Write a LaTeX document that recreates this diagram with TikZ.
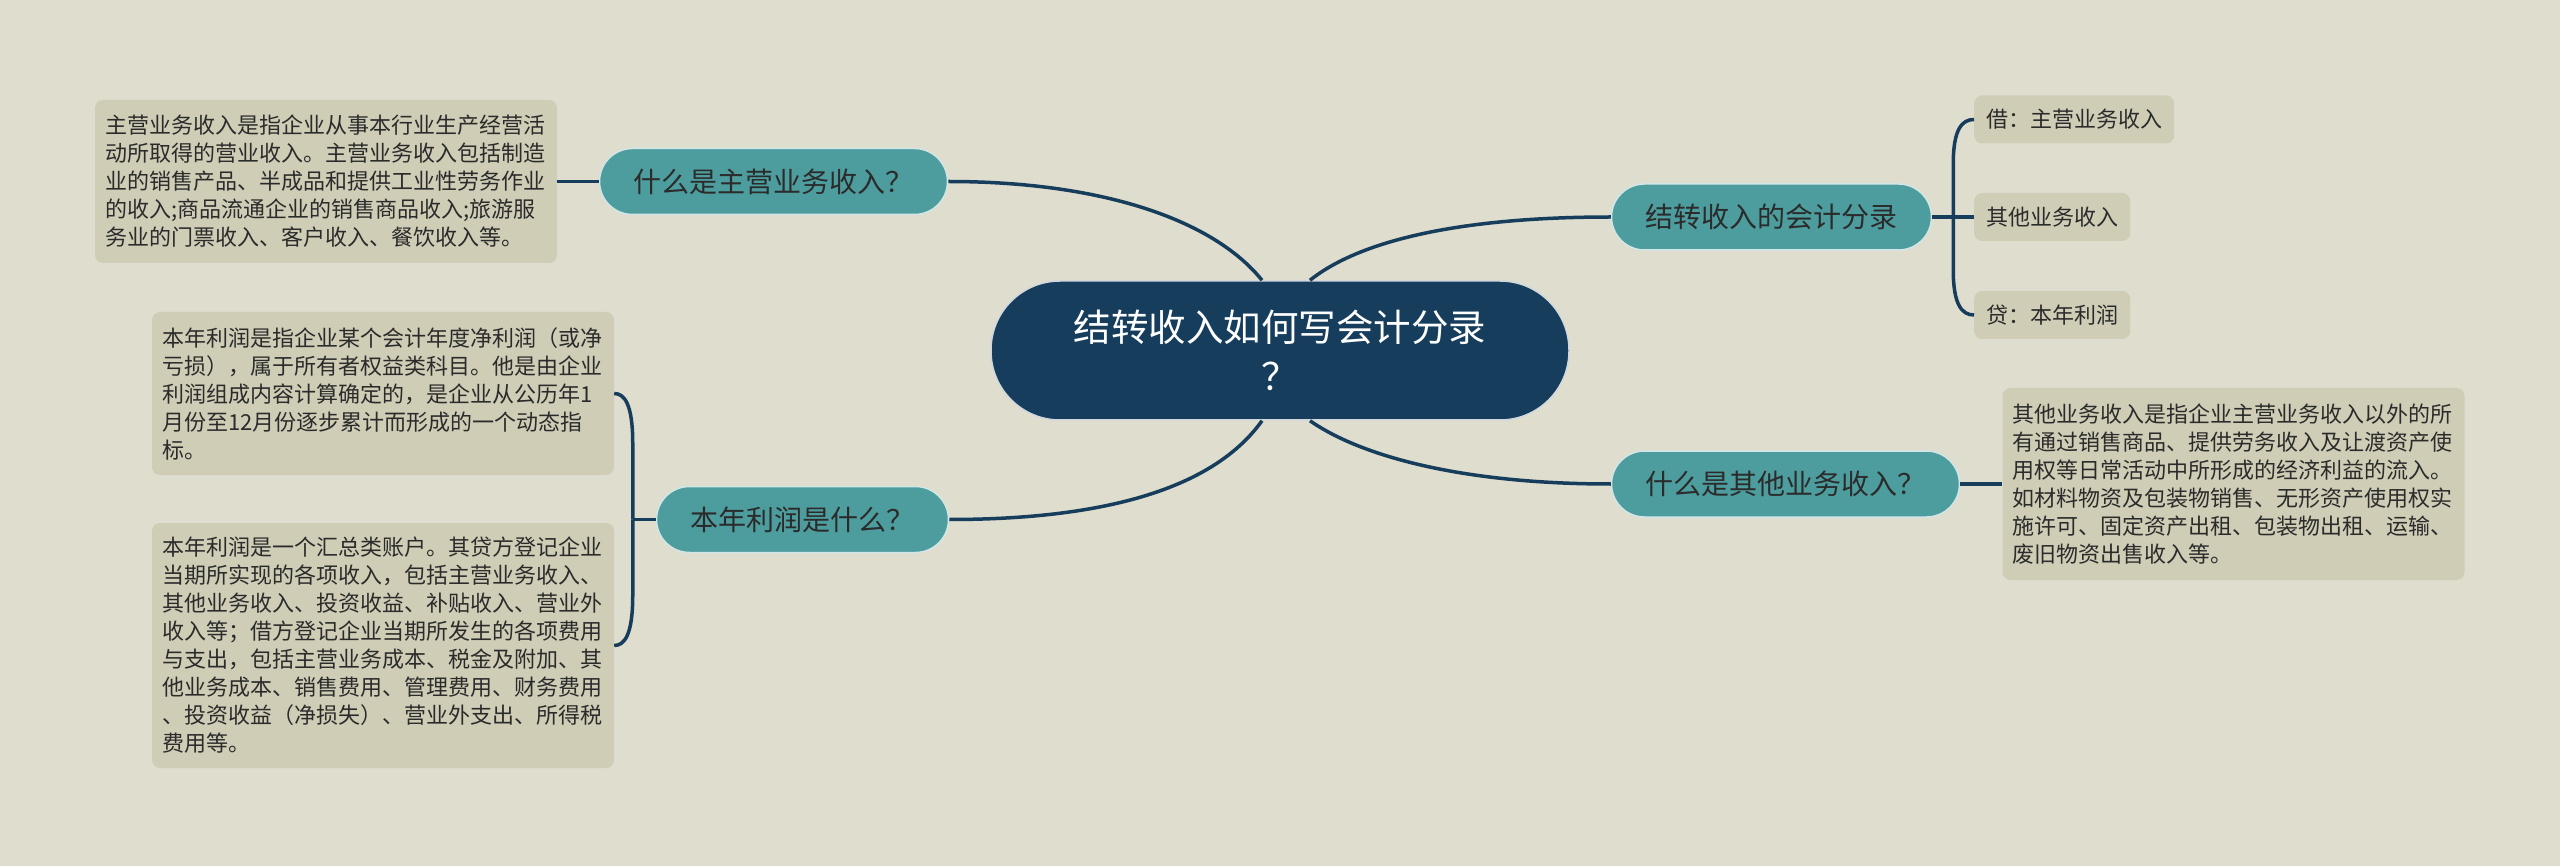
\documentclass[tikz,border=0pt]{standalone}
\usepackage{fontspec}
\newfontfamily\cjk{Noto Sans CJK SC}
\definecolor{paper}{HTML}{DFDDCE}
\definecolor{navy}{HTML}{163D5C}
\definecolor{teal}{HTML}{4E9D9E}
\definecolor{khaki}{HTML}{CFCDB6}
\definecolor{ink}{HTML}{2B2B2B}

\begin{document}
\begin{tikzpicture}[x=1pt, y=-1pt,
    topic/.style={fill=navy, draw=white!80!navy, line width=1.5, text=white,
      rounded corners=69, minimum width=578, minimum height=139, align=center,
      font={\cjk\fontsize{37.5}{49}\selectfont}},
    subtopic/.style={fill=teal, draw=white!75!teal, line width=1.5, text=ink,
      rounded corners=33, inner xsep=34, minimum height=66,
      font={\cjk\fontsize{28}{34}\selectfont}},
    leaf/.style={fill=khaki, text=ink, rounded corners=8, inner xsep=12,
      minimum height=48, font={\cjk\fontsize{22}{28}\selectfont}},
    note/.style={leaf, text width=442, inner xsep=10, align=left},
    link/.style={draw=navy, line width=3.5}]
    \fill [paper] (0, 0) rectangle (2560, 866);
    % centre
    \node [topic] (c) at (1280, 350.5) {结转收入如何写会计分录\\？};
    % left side
    \node [subtopic] (q1) at (773.5, 181.5) {什么是主营业务收入？};
    \node [subtopic] (q2) at (802.5, 519.5) {本年利润是什么？};
    \node [note, minimum height=163] (l1) at (326, 181.5)
      {主营业务收入是指企业从事本行业生产经营活\\
       动所取得的营业收入。主营业务收入包括制造\\
       业的销售产品、半成品和提供工业性劳务作业\\
       的收入;商品流通企业的销售商品收入;旅游服\\
       务业的门票收入、客户收入、餐饮收入等。};
    \node [note, minimum height=163] (l2a) at (383, 393.5)
      {本年利润是指企业某个会计年度净利润（或净\\
       亏损），属于所有者权益类科目。他是由企业\\
       利润组成内容计算确定的，是企业从公历年1\\
       月份至12月份逐步累计而形成的一个动态指\\
       标。};
    \node [note, minimum height=245] (l2b) at (383, 645.5)
      {本年利润是一个汇总类账户。其贷方登记企业\\
       当期所实现的各项收入，包括主营业务收入、\\
       其他业务收入、投资收益、补贴收入、营业外\\
       收入等；借方登记企业当期所发生的各项费用\\
       与支出，包括主营业务成本、税金及附加、其\\
       他业务成本、销售费用、管理费用、财务费用\\
       、投资收益（净损失）、营业外支出、所得税\\
       费用等。};
    % right side
    \node [subtopic] (q4) at (1771.5, 217) {结转收入的会计分录};
    \node [subtopic] (q3) at (1785.5, 484) {什么是其他业务收入？};
    \node [leaf, anchor=west] (r1) at (1974, 119.5) {借：主营业务收入};
    \node [leaf, anchor=west] (r2) at (1974, 217) {其他业务收入};
    \node [leaf, anchor=west] (r3) at (1974, 315) {贷：本年利润};
    \node [note, minimum height=192] (l3) at (2233.5, 484)
      {其他业务收入是指企业主营业务收入以外的所\\
       有通过销售商品、提供劳务收入及让渡资产使\\
       用权等日常活动中所形成的经济利益的流入。\\
       如材料物资及包装物销售、无形资产使用权实\\
       施许可、固定资产出租、包装物出租、运输、\\
       废旧物资出售收入等。};
    % branches from the centre
    \draw [link] ([xshift=-18]c.north) .. controls +(-50, -62) and +(150, 0) .. (q1.east);
    \draw [link] ([xshift=-18]c.south) .. controls +(-50, 70) and +(150, 0) .. (q2.east);
    \draw [link] ([xshift=30]c.north) .. controls +(50, -40) and +(-150, 0) .. (q4.west);
    \draw [link] ([xshift=30]c.south) .. controls +(50, 35) and +(-150, 0) .. (q3.west);
    % leaves
    \draw [link] (q1.west) -- (l1.east);
    \draw [link] (q3.east) -- (l3.west);
    \draw [link] (q2.west) -- ++(-23, 0) coordinate (lb);
    \draw [link] (lb) -- ++(0, -76) .. controls +(0, -40) and +(10, 0) .. (l2a.east);
    \draw [link] (lb) -- ++(0, 76) .. controls +(0, 40) and +(10, 0) .. (l2b.east);
    \draw [link] (q4.east) -- ++(21, 0) coordinate (rb);
    \draw [link] (rb) -- (r2.west);
    \draw [link] (rb) -- ++(0, -53) .. controls +(0, -35) and +(-12, 0) .. (r1.west);
    \draw [link] (rb) -- ++(0, 53) .. controls +(0, 35) and +(-12, 0) .. (r3.west);
\end{tikzpicture}
\end{document}
